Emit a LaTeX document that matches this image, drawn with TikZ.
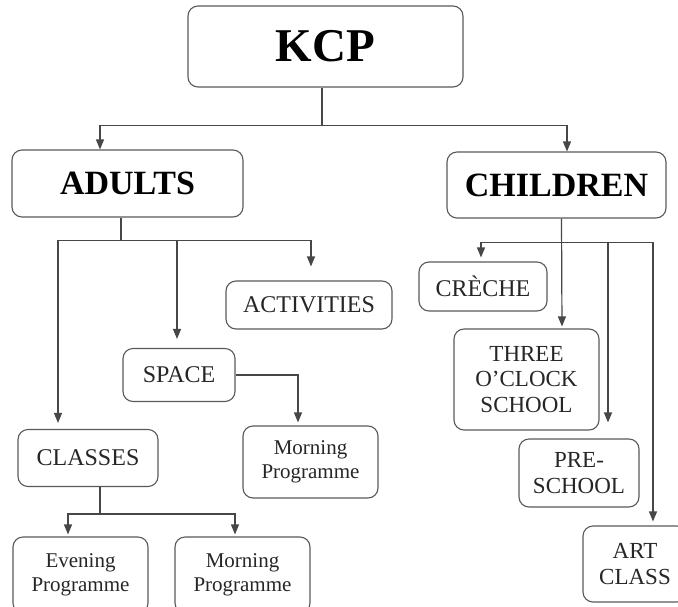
\documentclass[tikz,border=0pt]{standalone}
\usepackage{fontspec}
\setmainfont{Liberation Serif}
\usetikzlibrary{arrows.meta}
\tikzset{
  box/.style={draw=black!65, line width=1.1pt, rounded corners=10pt, inner sep=0pt,
    align=center, text=black!85, font=\fontsize{24}{26}\selectfont},
  small/.style={font=\fontsize{21}{24.5}\selectfont},
  head/.style={font=\fontsize{34}{38}\selectfont\bfseries, text=black},
  conn/.style={draw=black!72, line width=1.2pt},
  arr/.style={conn, -{Triangle[length=10pt,width=8pt]}}
}
\begin{document}
\begin{tikzpicture}[x=1pt,y=-1pt]
\useasboundingbox (0,0) rectangle (678,606);
\clip (0,0) rectangle (678,606);
% nodes
\node[box, font=\fontsize{47}{50}\selectfont\bfseries, text=black, minimum width=275pt, minimum height=81pt] (kcp) at (325.5,46.5) {KCP};
\node[box, head, minimum width=231pt, minimum height=67pt] (adults) at (127.5,183.5) {ADULTS};
\node[box, head, minimum width=219pt, minimum height=66pt] (children) at (556.5,185) {CHILDREN};
\node[box, minimum width=166pt, minimum height=48pt] (act) at (309,305) {ACTIVITIES};
\node[box, minimum width=112pt, minimum height=53pt] (space) at (179,375) {SPACE};
\node[box, minimum width=140pt, minimum height=57pt] (classes) at (88,458) {CLASSES};
\node[box, small, minimum width=135pt, minimum height=72pt] (morn1) at (310.5,462) {Morning\\Programme};
\node[box, small, minimum width=135pt, minimum height=76pt] (even) at (80.5,575) {Evening\\Programme};
\node[box, small, minimum width=135pt, minimum height=76pt] (morn2) at (242.5,575) {Morning\\Programme};
\node[box, minimum width=128pt, minimum height=49pt] (creche) at (483,286.5) {CRÈCHE};
\node[box, font=\fontsize{23}{25.5}\selectfont, minimum width=145pt, minimum height=101pt] (three) at (526.5,379.5) {THREE\\O’CLOCK\\SCHOOL};
\node[box, font=\fontsize{23}{25.5}\selectfont, minimum width=120pt, minimum height=68pt] (pre) at (579,473) {PRE-\\SCHOOL};
\node[box, font=\fontsize{23}{25.5}\selectfont, minimum width=104pt, minimum height=76pt] (art) at (635,564) {ART\\CLASS};
% KCP connectors
\coordinate (kb) at ([xshift=-3.5pt,yshift=-38pt]kcp.south);
\draw[conn] ([xshift=-3.5pt]kcp.south) -- (kb);
\draw[arr] (kb) -| ([xshift=-27.5pt]adults.north);
\draw[arr] (kb) -| ([xshift=10.5pt]children.north);
% ADULTS connectors
\coordinate (ab) at ([xshift=-6.5pt,yshift=-23pt]adults.south);
\draw[conn] ([xshift=-6.5pt]adults.south) -- (ab);
\draw[arr, shorten >=6pt] (ab) -| ([xshift=-30pt]classes.north);
\draw[arr, shorten >=9pt] (ab) -| ([xshift=-2pt]space.north);
\draw[arr, shorten >=14pt] (ab) -| ([xshift=2pt]act.north);
% SPACE connector
\draw[arr, shorten >=3pt] (space.east) -| ([xshift=-12.5pt]morn1.north);
% CLASSES connectors
\coordinate (cl) at ([xshift=12pt,yshift=-27pt]classes.south);
\draw[conn] ([xshift=12pt]classes.south) -- (cl);
\draw[arr, shorten >=2pt] (cl) -| ([xshift=-12.5pt]even.north);
\draw[arr, shorten >=2pt] (cl) -| ([xshift=-7.5pt]morn2.north);
% CHILDREN connectors
\coordinate (cb) at ([xshift=5pt,yshift=-24pt]children.south);
\draw[arr, shorten >=2pt] ([xshift=5pt]children.south) -- ([xshift=35.5pt]three.north);
\draw[arr, shorten >=4pt] (cb) -| ([xshift=-2pt]creche.north);
\draw[arr, shorten >=16pt] (cb) -| ([xshift=29pt]pre.north);
\draw[arr, shorten >=4pt] (cb) -| ([xshift=18pt]art.north);
\end{tikzpicture}
\end{document}
